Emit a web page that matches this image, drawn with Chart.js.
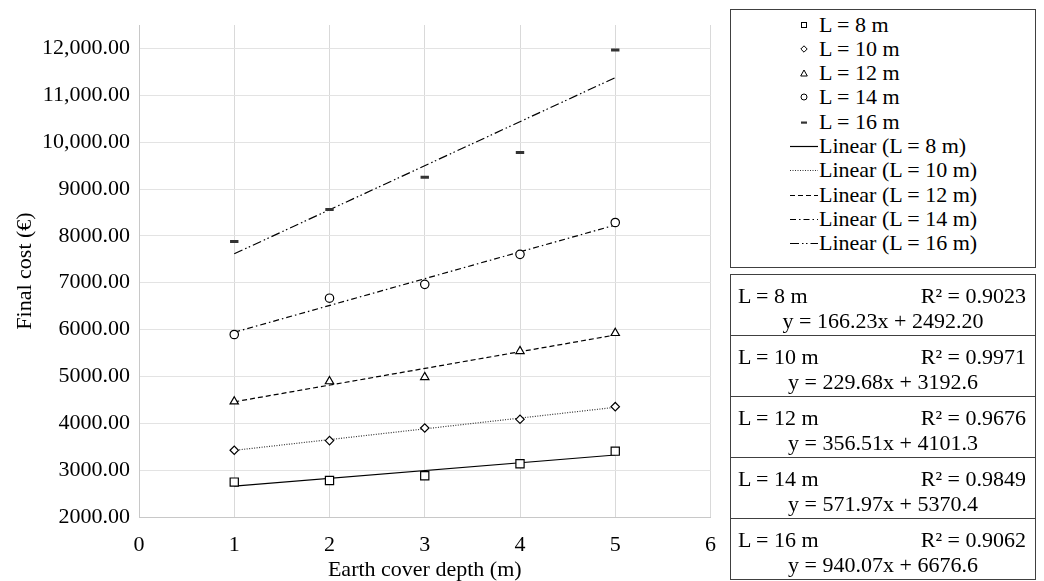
<!DOCTYPE html>
<html>
<head>
<meta charset="utf-8">
<script src="https://cdn.jsdelivr.net/npm/chart.js@4.4.1/dist/chart.umd.min.js"></script>
<style>
  html, body { margin: 0; padding: 0; background: #fff; }
  body { width: 1044px; height: 581px; overflow: hidden; position: relative;
         font-family: "Liberation Serif", "Times New Roman", serif; color: #000; }
  #plot { position: absolute; left: 0; top: 0; width: 731px; height: 581px; }
  .frame { position: absolute; left: 730px; width: 306px; border: 1px solid #404040;
           box-sizing: border-box; background: #fff; }
  .row { position: absolute; left: 0; width: 300px; height: 24px; line-height: 24px;
         font-size: 22px; white-space: nowrap; }
  .sym { position: absolute; left: 58px; top: 0; }
  .row span { position: absolute; left: 88px; top: 0; }
  .eq { position: absolute; left: 730px; width: 306px; height: 62px; border: 1px solid #404040;
        box-sizing: border-box; font-size: 22px; line-height: 24px; white-space: nowrap; background: #fff; }
  .eq .name { position: absolute; left: 7px; top: 9px; }
  .eq .r2 { position: absolute; right: 9px; top: 9px; }
  .eq .fit { position: absolute; left: 0; right: 0; top: 34px; text-align: center; }
</style>
</head>
<body>
<div id="plot"><canvas id="c" width="731" height="581"></canvas></div>
<div class="frame" id="legend" style="top:9px;height:259px"></div>
<div id="eqs"></div>
<script>
// Earth cover depth (m) on the x axis
const depths = [1, 2, 3, 4, 5];
const seriesLabels = ['L = 8 m', 'L = 10 m', 'L = 12 m', 'L = 14 m', 'L = 16 m'];

// Final cost (€) per span length
const cost8  = [2745, 2780, 2880, 3135, 3405];
const cost10 = [3425, 3630, 3900, 4085, 4355];
const cost12 = [4465, 4895, 4985, 5540, 5925];
const cost14 = [5895, 6670, 6965, 7605, 8285];
const cost16 = [7880, 8565, 9250, 9780, 11965];

// Linear trend lines: y = slope * x + intercept
const trendSlopes     = [166.23, 229.68, 356.51, 571.97, 940.07];
const trendIntercepts = [2492.20, 3192.6, 4101.3, 5370.4, 6676.6];
const slopeText       = ['166.23', '229.68', '356.51', '571.97', '940.07'];
const interceptText   = ['2492.20', '3192.6', '4101.3', '5370.4', '6676.6'];
const r2Text          = ['0.9023', '0.9971', '0.9676', '0.9849', '0.9062'];

// Axis ticks
const xTicks = [0, 1, 2, 3, 4, 5, 6];
const yTicks = [2000, 3000, 4000, 5000, 6000, 7000, 8000, 9000, 10000, 11000, 12000];

const costs = [cost8, cost10, cost12, cost14, cost16];
const pointStyles = ['rect', 'rectRot', 'triangle', 'circle', 'line'];
const pointRadii = [5.8, 4.2, 4.8, 4.2, 4.2];
const dashes = [[], [1, 1.5], [5, 3], [6, 3, 1.5, 3], [9, 3, 1.5, 2.5, 1.5, 3]];
const lineColors = ['#000', '#333', '#000', '#000', '#000'];

function fmtCost(v) {
  const s = v.toFixed(2);
  if (v < 10000) return s;
  const [i, d] = s.split('.');
  return i.replace(/\B(?=(\d{3})+(?!\d))/g, ',') + '.' + d;
}

const datasets = [];
costs.forEach((arr, k) => {
  datasets.push({
    label: seriesLabels[k],
    data: depths.map((x, i) => ({ x, y: arr[i] })),
    showLine: false,
    pointStyle: pointStyles[k],
    pointRadius: pointRadii[k],
    pointBackgroundColor: '#fff',
    pointBorderColor: k === 4 ? '#333' : '#000',
    pointBorderWidth: k === 4 ? 3 : 1.2,
    pointHoverRadius: pointRadii[k]
  });
});
costs.forEach((arr, k) => {
  const x0 = depths[0], x1 = depths[depths.length - 1];
  datasets.push({
    label: 'Linear (' + seriesLabels[k] + ')',
    data: [
      { x: x0, y: trendSlopes[k] * x0 + trendIntercepts[k] },
      { x: x1, y: trendSlopes[k] * x1 + trendIntercepts[k] }
    ],
    showLine: true,
    pointRadius: 0,
    borderColor: lineColors[k],
    borderWidth: 1.2,
    borderDash: dashes[k],
    fill: false
  });
});

const FONT = '"Liberation Serif", "Times New Roman", serif';

new Chart(document.getElementById('c'), {
  type: 'scatter',
  data: { datasets },
  options: {
    responsive: false,
    animation: false,
    layout: { padding: { top: 25, right: 0, left: 0, bottom: 0 } },
    plugins: { legend: { display: false }, tooltip: { enabled: false } },
    scales: {
      x: {
        type: 'linear', min: 0, max: 6,
        afterFit: s => { s.height = 64; },
        afterBuildTicks: s => { s.ticks = xTicks.map(v => ({ value: v })); },
        grid: { color: '#d9d9d9', lineWidth: 1, drawTicks: false },
        border: { color: '#c8c8c8' },
        ticks: { color: '#000', font: { family: FONT, size: 22 }, padding: 15, callback: v => String(v) },
        title: { display: true, text: 'Earth cover depth (m)', color: '#000',
                 font: { family: FONT, size: 22, lineHeight: 1.0 }, padding: { top: 0, bottom: 0 } }
      },
      y: {
        type: 'linear', min: 2000, max: 12500,
        afterFit: s => { s.width = 139; },
        afterBuildTicks: s => { s.ticks = yTicks.map(v => ({ value: v })); },
        grid: { color: '#e3e3e3', lineWidth: 1, drawTicks: false },
        border: { color: '#c8c8c8' },
        ticks: { color: '#000', font: { family: FONT, size: 22 }, padding: 9, callback: v => fmtCost(v) },
        title: { display: true, text: 'Final cost (€)', color: '#000',
                 font: { family: FONT, size: 22, lineHeight: 1.0 }, padding: { top: 14, bottom: 0 } }
      }
    }
  }
});

// Legend box: marker and line samples share one 30x24 symbol slot
const legend = document.getElementById('legend');
function markerSvg(k) {
  const m = {
    0: '<rect x="12.5" y="9.5" width="5" height="5" fill="#fff" stroke="#000" stroke-width="1"/>',
    1: '<path d="M15 8.8 L18.2 12 L15 15.2 L11.8 12 Z" fill="#fff" stroke="#000" stroke-width="1"/>',
    2: '<path d="M15 9 L18.3 15 L11.7 15 Z" fill="#fff" stroke="#000" stroke-width="1"/>',
    3: '<circle cx="15" cy="12" r="3" fill="#fff" stroke="#000" stroke-width="1"/>',
    4: '<rect x="12" y="11.5" width="6" height="2.2" fill="#333"/>'
  };
  return '<svg class="sym" width="30" height="24">' + m[k] + '</svg>';
}
function lineSvg(k) {
  const d = dashes[k].length ? ' stroke-dasharray="' + dashes[k].join(' ') + '"' : '';
  return '<svg class="sym" width="30" height="24"><line x1="1" y1="12.5" x2="29" y2="12.5" stroke="' +
    lineColors[k] + '" stroke-width="1.2"' + d + '/></svg>';
}
const rowStep = 24.3;
seriesLabels.forEach((lab, k) => {
  const r = document.createElement('div');
  r.className = 'row';
  r.style.top = (2.5 + rowStep * k) + 'px';
  r.innerHTML = markerSvg(k) + '<span>' + lab + '</span>';
  legend.appendChild(r);
});
seriesLabels.forEach((lab, k) => {
  const r = document.createElement('div');
  r.className = 'row';
  r.style.top = (2.5 + rowStep * (k + 5)) + 'px';
  r.innerHTML = lineSvg(k) + '<span>Linear (' + lab + ')</span>';
  legend.appendChild(r);
});

// Trend line equation boxes
const eqTops = [274, 335, 396, 457, 518];
const eqs = document.getElementById('eqs');
seriesLabels.forEach((lab, k) => {
  const b = document.createElement('div');
  b.className = 'eq';
  b.style.top = eqTops[k] + 'px';
  b.innerHTML = '<div class="name">' + lab + '</div>' +
    '<div class="r2">R² = ' + r2Text[k] + '</div>' +
    '<div class="fit">y = ' + slopeText[k] + 'x + ' + interceptText[k] + '</div>';
  eqs.appendChild(b);
});
</script>
</body>
</html>
